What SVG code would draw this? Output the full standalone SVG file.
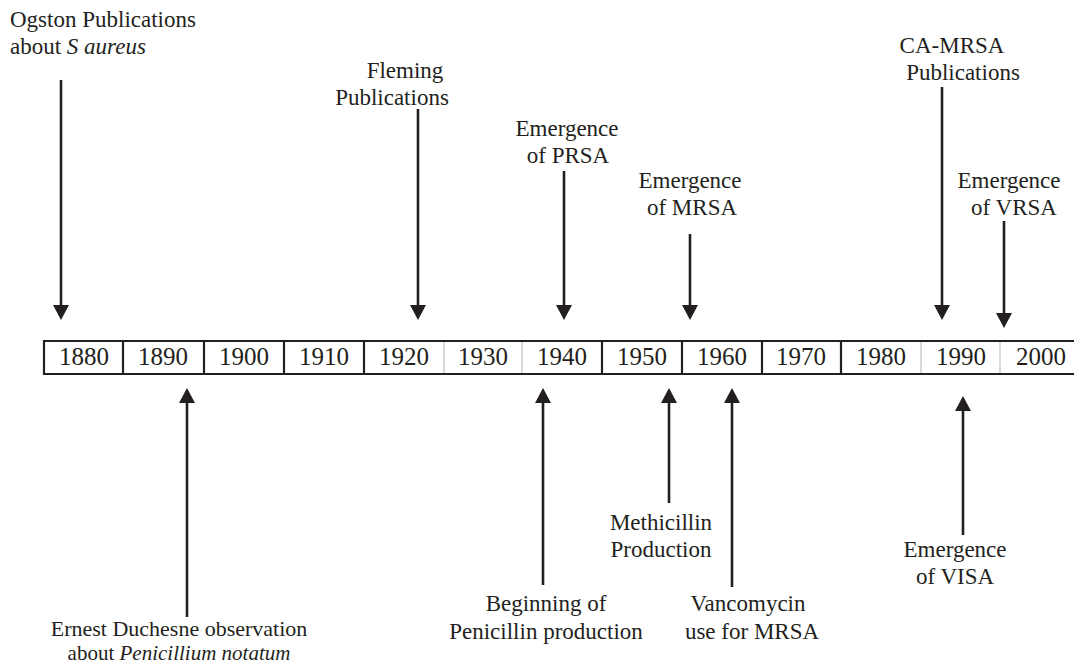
<svg xmlns="http://www.w3.org/2000/svg" width="1074" height="666" viewBox="0 0 1074 666">
<defs>
<style>
text{font-family:"Liberation Serif","Times New Roman",serif;fill:#231f20;}
.lbl{font-size:23px;text-anchor:middle;}
.yr{font-size:25px;text-anchor:middle;}
.arr{stroke:#231f20;stroke-width:2.6;fill:none;marker-end:url(#ah);}
.thick{stroke:#231f20;stroke-width:2.2;}
.thin{stroke:#b5b5b5;stroke-width:1;}
</style>
<marker id="ah" markerUnits="userSpaceOnUse" markerWidth="16" markerHeight="17" refX="0" refY="8" orient="auto" viewBox="0 0 16 16">
<path d="M0,0 L15,8 L0,16 Z" fill="#231f20"/>
</marker>
</defs>
<rect width="1074" height="666" fill="#ffffff"/>

<g id="timeline">
<line class="thick" x1="43" y1="341" x2="1074" y2="341"/>
<line class="thick" x1="43" y1="374" x2="1074" y2="374"/>
<line class="thick" x1="44" y1="340" x2="44" y2="375"/>
<line class="thick" x1="123" y1="341" x2="123" y2="374"/>
<line class="thick" x1="204" y1="341" x2="204" y2="374"/>
<line class="thick" x1="284" y1="341" x2="284" y2="374"/>
<line class="thick" x1="364" y1="341" x2="364" y2="374"/>
<line class="thin" x1="444" y1="342" x2="444" y2="373"/>
<line class="thin" x1="522" y1="342" x2="522" y2="373"/>
<line class="thick" x1="602" y1="341" x2="602" y2="374"/>
<line class="thick" x1="682" y1="341" x2="682" y2="374"/>
<line class="thick" x1="762" y1="341" x2="762" y2="374"/>
<line class="thick" x1="841" y1="341" x2="841" y2="374"/>
<line class="thin" x1="921" y1="342" x2="921" y2="373"/>
<line class="thin" x1="1000" y1="342" x2="1000" y2="373"/>
<text class="yr" x="84" y="365">1880</text>
<text class="yr" x="163" y="365">1890</text>
<text class="yr" x="244" y="365">1900</text>
<text class="yr" x="324" y="365">1910</text>
<text class="yr" x="404" y="365">1920</text>
<text class="yr" x="483" y="365">1930</text>
<text class="yr" x="562" y="365">1940</text>
<text class="yr" x="642" y="365">1950</text>
<text class="yr" x="722" y="365">1960</text>
<text class="yr" x="801" y="365">1970</text>
<text class="yr" x="881" y="365">1980</text>
<text class="yr" x="961" y="365">1990</text>
<text class="yr" x="1041" y="365">2000</text>
</g>

<g id="connectors">
<line class="arr" x1="61" y1="80" x2="61" y2="305"/>
<line class="arr" x1="418" y1="109" x2="418" y2="305"/>
<line class="arr" x1="564" y1="171" x2="564" y2="305"/>
<line class="arr" x1="690" y1="234" x2="690" y2="305"/>
<line class="arr" x1="942" y1="87" x2="942" y2="305"/>
<line class="arr" x1="1004" y1="221" x2="1004" y2="313"/>
<line class="arr" x1="187" y1="617" x2="187" y2="403"/>
<line class="arr" x1="543" y1="585" x2="543" y2="403"/>
<line class="arr" x1="669" y1="503" x2="669" y2="403"/>
<line class="arr" x1="732" y1="587" x2="732" y2="403"/>
<line class="arr" x1="963" y1="535" x2="963" y2="411"/>
</g>

<g id="ogston">
<text x="10" y="27" font-size="23">Ogston Publications</text>
<text x="10" y="54" font-size="23">about <tspan font-style="italic">S aureus</tspan></text>
</g>
<g id="fleming">
<text class="lbl" x="405" y="78">Fleming</text>
<text class="lbl" x="392" y="105">Publications</text>
</g>
<g id="prsa">
<text class="lbl" x="567" y="136">Emergence</text>
<text class="lbl" x="568" y="163">of PRSA</text>
</g>
<g id="mrsa">
<text class="lbl" x="690" y="188">Emergence</text>
<text class="lbl" x="692" y="215">of MRSA</text>
</g>
<g id="camrsa">
<text class="lbl" x="952" y="53">CA-MRSA</text>
<text class="lbl" x="963" y="80">Publications</text>
</g>
<g id="vrsa">
<text class="lbl" x="1009" y="188">Emergence</text>
<text class="lbl" x="1014" y="215">of VRSA</text>
</g>
<g id="duchesne">
<text class="lbl" x="179" y="636" style="font-size:22px">Ernest Duchesne observation</text>
<text class="lbl" x="179" y="660" style="font-size:21px">about <tspan font-style="italic">Penicillium notatum</tspan></text>
</g>
<g id="penicillin">
<text class="lbl" x="546" y="611">Beginning of</text>
<text class="lbl" x="546" y="639">Penicillin production</text>
</g>
<g id="methicillin">
<text class="lbl" x="661" y="530">Methicillin</text>
<text class="lbl" x="661" y="557">Production</text>
</g>
<g id="vancomycin">
<text class="lbl" x="748" y="611">Vancomycin</text>
<text class="lbl" x="752" y="639">use for MRSA</text>
</g>
<g id="visa">
<text class="lbl" x="955" y="557">Emergence</text>
<text class="lbl" x="955" y="584">of VISA</text>
</g>
</svg>
